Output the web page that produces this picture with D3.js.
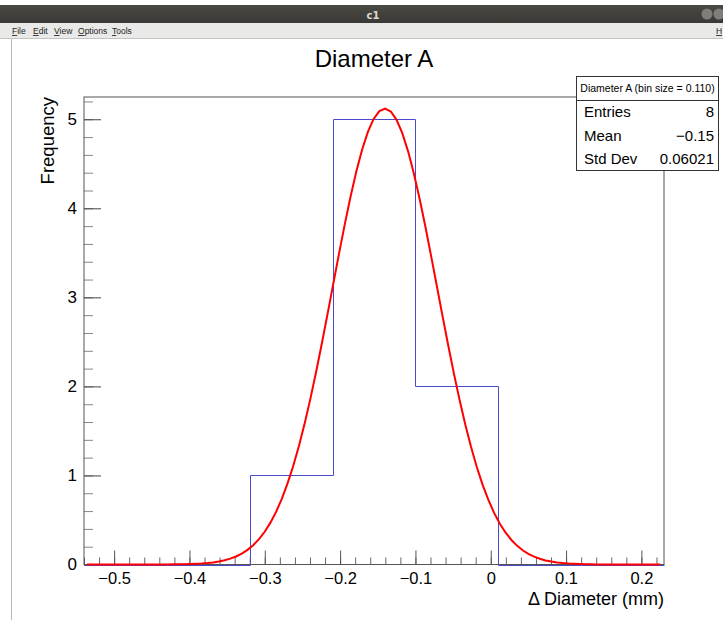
<!DOCTYPE html>
<html>
<head>
<meta charset="utf-8">
<script src="https://cdn.jsdelivr.net/npm/d3@7"></script>
<style>
  body { margin: 0; background: #ffffff; }
  svg { display: block; }
</style>
</head>
<body>
<script>
// histogram contents (bin size 0.11)
var binLowEdges = [-0.54, -0.43, -0.32, -0.21, -0.10, 0.01, 0.12]
var binCounts = [0, 0, 1, 5, 2, 0, 0]
var binWidth = 0.11

// gaussian fit parameters
var fitConstant = 5.12
var fitMean = -0.1406
var fitSigma = 0.0695
var fitRange = [-0.536, 0.225]

// stats box
var statsTitle = "Diameter A (bin size = 0.110)"
var statsLabels = ["Entries", "Mean", "Std Dev"]
var statsValues = ["8", "\u22120.15", "0.06021"]

var menuItems = ["File", "Edit", "View", "Options", "Tools"]
var menuX = [12, 33, 54, 78, 112]

var w = 723
var h = 620
var font = "'Liberation Sans', Arial, sans-serif"

var svg = d3.select("body")
    .append("svg")
    .attr("width", w)
    .attr("height", h)

// window chrome
var grad = svg.append("defs").append("linearGradient")
    .attr("id", "bar").attr("x1", 0).attr("y1", 0).attr("x2", 0).attr("y2", 1)
grad.append("stop").attr("offset", "0%").attr("stop-color", "#4a4944")
grad.append("stop").attr("offset", "100%").attr("stop-color", "#3a3935")

svg.append("rect").attr("x", 0).attr("y", 5).attr("width", w).attr("height", 18).attr("fill", "url(#bar)")
svg.append("text")
    .attr("x", 373).attr("y", 19)
    .attr("text-anchor", "middle")
    .attr("font-family", "'DejaVu Sans', sans-serif")
    .attr("font-weight", "bold")
    .attr("font-size", 10)
    .attr("fill", "#dfdbd2")
    .text("c1")
svg.append("circle").attr("cx", 707).attr("cy", 14).attr("r", 5.5).attr("fill", "#7f7e7a")
svg.append("circle").attr("cx", 719).attr("cy", 14).attr("r", 5.5).attr("fill", "#7f7e7a")

svg.append("rect").attr("x", 0).attr("y", 23).attr("width", w).attr("height", 16).attr("fill", "#e9e9e8")
svg.append("line").attr("x1", 0).attr("x2", w).attr("y1", 38.5).attr("y2", 38.5).attr("stroke", "#c4c4c4")
menuItems.forEach(function(m, i) {
    var t = svg.append("text")
        .attr("x", menuX[i]).attr("y", 34)
        .attr("font-family", font)
        .attr("font-size", 8.5)
        .attr("fill", "#222")
    t.append("tspan").attr("text-decoration", "underline").text(m[0])
    t.append("tspan").text(m.slice(1))
})
svg.append("text").attr("x", 716).attr("y", 34).attr("font-family", font).attr("font-size", 8.5)
    .attr("fill", "#222").attr("text-decoration", "underline").text("H")

svg.append("line").attr("x1", 11.5).attr("x2", 11.5).attr("y1", 39).attr("y2", h).attr("stroke", "#b8b8b8")

// plot frame
var frameLeft = 84, frameRight = 664, frameTop = 97, frameBottom = 564.5

var xScale = d3.scaleLinear()
    .domain([-0.54, 0.23])
    .range([frameLeft, frameRight])

var yScale = d3.scaleLinear()
    .domain([0, 5.25])
    .range([frameBottom, frameTop])

var xFormat = function(d) { return Math.abs(d) < 1e-9 ? "0" : d3.format(".1f")(d) }

// minor and major ticks
svg.append("g")
    .attr("transform", "translate(0," + frameBottom + ")")
    .call(d3.axisTop(xScale).tickValues(xScale.ticks(40)).tickSize(7).tickFormat(""))
    .call(function(g) { g.select(".domain").remove(); g.selectAll("line").attr("stroke", "#666") })
svg.append("g")
    .attr("transform", "translate(0," + frameBottom + ")")
    .call(d3.axisTop(xScale).ticks(8).tickSize(14).tickFormat(""))
    .call(function(g) { g.select(".domain").remove(); g.selectAll("line").attr("stroke", "#555") })
svg.append("g")
    .attr("transform", "translate(0," + frameBottom + ")")
    .call(d3.axisBottom(xScale).ticks(8).tickSize(0).tickPadding(8).tickFormat(xFormat))
    .call(function(g) {
        g.select(".domain").remove()
        g.selectAll("text").attr("font-family", font).attr("font-size", 16.5).attr("fill", "#000")
    })

svg.append("g")
    .attr("transform", "translate(" + frameLeft + ",0)")
    .call(d3.axisRight(yScale).ticks(25).tickSize(9).tickFormat(""))
    .call(function(g) { g.select(".domain").remove(); g.selectAll("line").attr("stroke", "#888") })
svg.append("g")
    .attr("transform", "translate(" + frameLeft + ",0)")
    .call(d3.axisRight(yScale).ticks(5).tickSize(17).tickFormat(""))
    .call(function(g) { g.select(".domain").remove(); g.selectAll("line").attr("stroke", "#444") })
svg.append("g")
    .attr("transform", "translate(" + frameLeft + ",0)")
    .call(d3.axisLeft(yScale).ticks(5).tickSize(0).tickPadding(7))
    .call(function(g) {
        g.select(".domain").remove()
        g.selectAll("text").attr("font-family", font).attr("font-size", 17).attr("fill", "#000")
    })

svg.append("rect")
    .attr("x", frameLeft).attr("y", frameTop)
    .attr("width", frameRight - frameLeft).attr("height", frameBottom - frameTop)
    .attr("fill", "none")
    .attr("stroke", "#555")
    .attr("stroke-width", 1)

// histogram outline
var steps = [[binLowEdges[0], 0]]
binLowEdges.forEach(function(x0, i) {
    steps.push([x0, binCounts[i]])
    steps.push([x0 + binWidth, binCounts[i]])
})
steps.push([binLowEdges[binLowEdges.length - 1] + binWidth, 0])

svg.append("path")
    .datum(steps)
    .attr("d", d3.line()
        .x(function(d) { return Math.round(xScale(d[0])) + 0.5 })
        .y(function(d) { return Math.round(yScale(d[1])) + 0.5 }))
    .attr("fill", "none")
    .attr("stroke", "#4a4acc")
    .attr("stroke-width", 1)

// gaussian fit curve
var fitPoints = d3.range(0, 101).map(function(i) {
    var x = fitRange[0] + (fitRange[1] - fitRange[0]) * i / 100
    var z = (x - fitMean) / fitSigma
    return [x, fitConstant * Math.exp(-0.5 * z * z)]
})
svg.append("path")
    .datum(fitPoints)
    .attr("d", d3.line()
        .x(function(d) { return xScale(d[0]) })
        .y(function(d) { return yScale(d[1]) }))
    .attr("fill", "none")
    .attr("stroke", "#ff0000")
    .attr("stroke-width", 2)

// title and axis labels
svg.append("text")
    .attr("x", 374).attr("y", 66.5)
    .attr("text-anchor", "middle")
    .attr("font-family", font)
    .attr("font-size", 24)
    .text("Diameter A")

svg.append("text")
    .attr("text-anchor", "end")
    .attr("transform", "translate(54," + frameTop + ") rotate(-90)")
    .attr("font-family", font)
    .attr("font-size", 18.5)
    .text("Frequency")

svg.append("text")
    .attr("x", frameRight).attr("y", 605)
    .attr("text-anchor", "end")
    .attr("font-family", font)
    .attr("font-size", 18)
    .text("\u0394 Diameter (mm)")

// stats box
var bx = 576.5, by = 76.5, bw = 142, bh = 94
svg.append("rect")
    .attr("x", bx).attr("y", by).attr("width", bw).attr("height", bh)
    .attr("fill", "#fff").attr("stroke", "#333")
svg.append("line")
    .attr("x1", bx).attr("x2", bx + bw).attr("y1", 100.5).attr("y2", 100.5)
    .attr("stroke", "#333")
svg.append("text")
    .attr("x", bx + bw / 2).attr("y", 92)
    .attr("text-anchor", "middle")
    .attr("font-family", font)
    .attr("font-size", 10.5)
    .text(statsTitle)

var rowY = [117, 140.5, 164]
statsLabels.forEach(function(l, i) {
    svg.append("text")
        .attr("x", 584).attr("y", rowY[i])
        .attr("font-family", font).attr("font-size", 15)
        .text(l)
    svg.append("text")
        .attr("x", 714).attr("y", rowY[i])
        .attr("text-anchor", "end")
        .attr("font-family", font).attr("font-size", 15)
        .text(statsValues[i])
})
</script>
</body>
</html>
